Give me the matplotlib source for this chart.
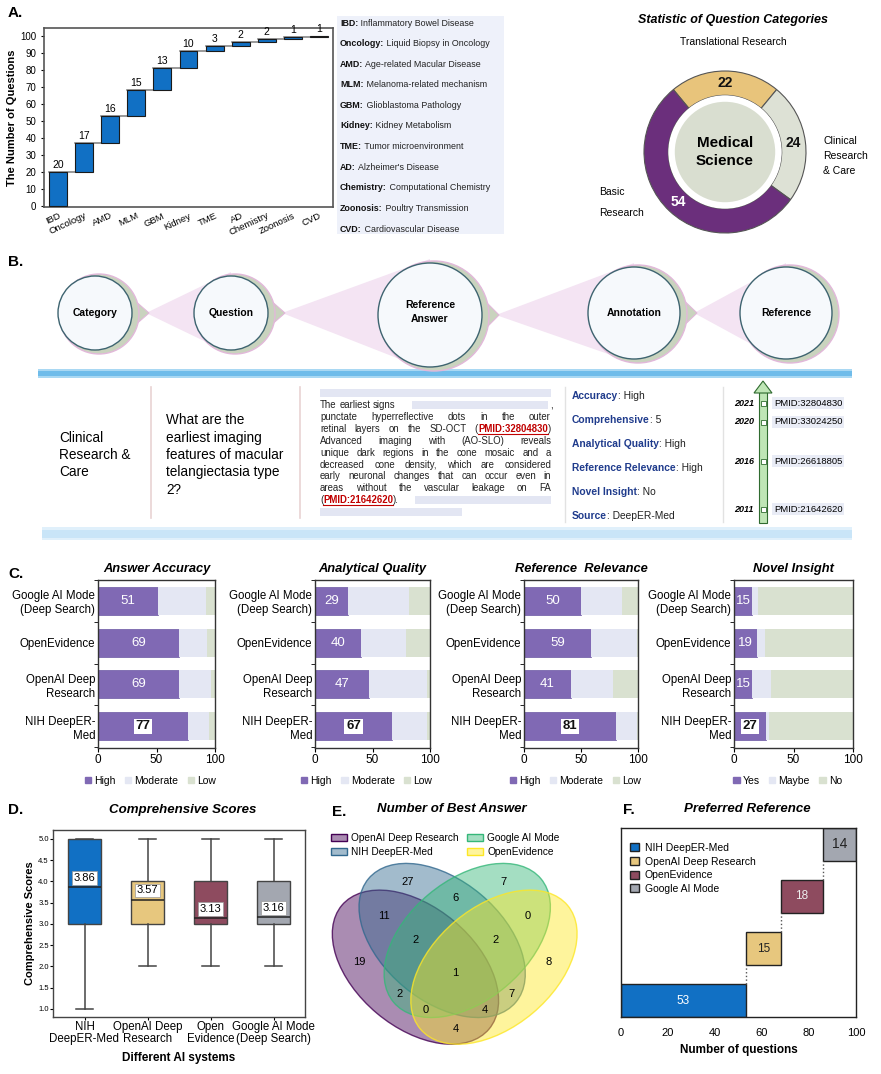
import matplotlib
matplotlib.use('Agg')
import matplotlib.pyplot as plt
from matplotlib.patches import Rectangle, Circle, Ellipse, Polygon, Patch
import numpy as np

plt.rcParams['font.family'] = ['Liberation Sans', 'DejaVu Sans']

# ---------------- data ----------------
topics = ['IBD', 'Oncology', 'AMD', 'MLM', 'GBM', 'Kidney', 'TME', 'AD', 'Chemistry', 'Zoonosis', 'CVD']
topic_counts = [20, 17, 16, 15, 13, 10, 3, 2, 2, 1, 1]
topic_names = ['Inflammatory Bowel Disease', 'Liquid Biopsy in Oncology', 'Age-related Macular Disease',
               'Melanoma-related mechanism', 'Glioblastoma Pathology', 'Kidney Metabolism',
               'Tumor microenvironment', "Alzheimer's Disease", 'Computational Chemistry',
               'Poultry Transmission', 'Cardiovascular Disease']

cat_names = ['Translational Research', 'Clinical Research & Care', 'Basic Research']
cat_counts = [22, 24, 54]

steps = ['Category', 'Question', 'Reference\nAnswer', 'Annotation', 'Reference']
ann_keys = ['Accuracy', 'Comprehensive', 'Analytical Quality', 'Reference Relevance', 'Novel Insight', 'Source']
ann_vals = ['High', '5', 'High', 'High', 'No', 'DeepER-Med']
ref_years = ['2021', '2020', '2016', '2011']
ref_pmids = ['PMID:32804830', 'PMID:33024250', 'PMID:26618805', 'PMID:21642620']

c_systems = ['Google AI Mode\n(Deep Search)', 'OpenEvidence', 'OpenAI Deep\nResearch', 'NIH DeepER-\nMed']
acc_high = [51, 69, 69, 77]
acc_mod = [41, 24, 28, 18]
acc_low = [8, 7, 3, 5]
aq_high = [29, 40, 47, 67]
aq_mod = [53, 39, 50, 30]
aq_low = [18, 21, 3, 3]
rr_high = [50, 59, 41, 81]
rr_mod = [36, 40, 37, 18]
rr_low = [14, 1, 22, 1]
ni_yes = [15, 19, 15, 27]
ni_maybe = [5, 7, 16, 2]
ni_no = [80, 74, 69, 71]

box_systems = ['NIH\nDeepER-Med', 'OpenAI Deep\nResearch', 'Open\nEvidence', 'Google AI Mode\n(Deep Search)']
box_mean = [3.86, 3.57, 3.13, 3.16]
box_q1 = [3, 3, 3, 3]
box_q3 = [5, 4, 4, 4]
box_lo = [1, 2, 2, 2]
box_hi = [5, 5, 5, 5]

venn_names = ['OpenAI Deep Research', 'NIH DeepER-Med', 'Google AI Mode', 'OpenEvidence']
# region codes: OpenAI, NIH, Google, OpenEvidence
venn_regions = ['0001', '0010', '0011', '0100', '0101', '0110', '0111', '1000',
                '1001', '1010', '1011', '1100', '1101', '1110', '1111']
venn_counts = [8, 7, 0, 27, 7, 6, 2, 19, 4, 2, 0, 11, 4, 2, 1]

pref_systems = ['NIH DeepER-Med', 'OpenAI Deep Research', 'OpenEvidence', 'Google AI Mode']
pref_counts = [53, 15, 18, 14]

BLUE = '#1170C4'
GOLD = '#E7C77E'
WINE = '#8E4B5F'
GREY = '#A3A7B0'

W, H = 881, 1074
fig = plt.figure(figsize=(W / 100, H / 100), dpi=100)


def px_axes(x0, y0, x1, y1):
    return fig.add_axes([x0 / W, 1 - y1 / H, (x1 - x0) / W, (y1 - y0) / H])


bg = px_axes(0, 0, W, H)
bg.set_xlim(0, W)
bg.set_ylim(H, 0)
bg.axis('off')
R = fig.canvas.get_renderer()


def tw(t):
    return t.get_window_extent(renderer=R).width


def two_part(x, y, a, b, fs, ca='#111', cb='#222'):
    t1 = bg.text(x, y, a, fontsize=fs, fontweight='bold', color=ca, va='center', ha='left')
    bg.text(x + tw(t1), y, b, fontsize=fs, color=cb, va='center', ha='left')


for lab, (x, y) in zip(['A.', 'B.', 'C.', 'D.', 'E.', 'F.'],
                       [(8, 13), (8, 262), (8, 574), (8, 810), (332, 812), (623, 810)]):
    bg.text(x, y, lab, fontsize=11, fontweight='bold', va='center')

# ---------------- A: waterfall ----------------
axA = px_axes(44, 28, 333, 207)
xa = np.arange(len(topics))
bottoms = np.concatenate([[0], np.cumsum(topic_counts)[:-1]])
axA.bar(xa, topic_counts, bottom=bottoms, width=0.69, color=BLUE, edgecolor='#1a1a1a', linewidth=0.8, zorder=3)
for i, v in enumerate(topic_counts):
    top = bottoms[i] + v
    if i < len(topics) - 1:
        axA.plot([xa[i] - 0.345, xa[i + 1] - 0.345], [top, top], color='#888', lw=1.2, zorder=2)
    axA.text(xa[i], top + 1.2, str(v), ha='center', va='bottom', fontsize=7.5)
axA.set_xlim(-0.55, 10.55)
axA.set_ylim(-0.5, 104.5)
axA.set_yticks(range(0, 101, 10))
axA.set_xticks(xa)
axA.set_xticklabels(topics, rotation=25, ha='right', rotation_mode='anchor', fontsize=6.8)
axA.tick_params(axis='y', labelsize=7, length=2)
axA.tick_params(axis='x', length=0, pad=3)
axA.set_ylabel('The Number of Questions', fontsize=8, fontweight='bold', labelpad=2)
for s in axA.spines.values():
    s.set_color('#555')
    s.set_linewidth(1.2)

bg.add_patch(Rectangle((337, 16), 167, 218, fc='#EEF1FA', ec='none'))
for i, (ab, nm) in enumerate(zip(topics, topic_names)):
    two_part(340, 23 + i * 20.6, ab + ':', ' ' + nm, 6.4)

# ---------------- A: donut ----------------
axP = px_axes(644, 71, 806, 233)
wedges, _ = axP.pie(cat_counts, colors=['#E8C47B', '#DDE1D5', '#6B2F7C'],
                    startangle=90 + 0.5 * cat_counts[0] * 3.6, counterclock=False, radius=1,
                    wedgeprops=dict(width=0.3, edgecolor='#555', linewidth=0.8))
axP.add_patch(Circle((0, 0), 0.70, fc='white', ec='none'))
axP.add_patch(Circle((0, 0), 0.62, fc='#D9DED0', ec='none'))
for w, v, c in zip(wedges, cat_counts, ['#111', '#111', 'white']):
    th = np.deg2rad((w.theta1 + w.theta2) / 2)
    axP.text(0.85 * np.cos(th), 0.85 * np.sin(th), str(v), ha='center', va='center',
             fontsize=10, fontweight='bold', color=c)
axP.text(0, 0, 'Medical\nScience', ha='center', va='center', fontsize=11, fontweight='bold', linespacing=1.3)
axP.set_xlim(-1, 1)
axP.set_ylim(-1, 1)
axP.set_aspect('equal')
axP.axis('off')
bg.text(733, 20, 'Statistic of Question Categories', ha='center', va='center', fontsize=9,
        fontweight='bold', style='italic')
bg.text(733, 42, cat_names[0], ha='center', va='center', fontsize=7.5)
bg.text(823, 156, 'Clinical\nResearch\n& Care', ha='left', va='center', fontsize=7.5, linespacing=1.6)
bg.text(599, 192, 'Basic', ha='left', va='center', fontsize=7.5)
bg.text(599, 213, 'Research', ha='left', va='center', fontsize=7.5)

# ---------------- B: workflow ----------------
bubbles = [(95, 313, 37), (231, 313, 37), (430, 315, 52), (634, 313, 46), (786, 313, 46)]
for i in range(len(bubbles) - 1):
    cx, cy, r = bubbles[i]
    nx, ny, nr = bubbles[i + 1]
    bg.add_patch(Polygon([(cx + r + 14, cy), (nx, ny - nr - 4), (nx, ny + nr + 4)],
                         closed=True, fc='#F4E4F3', ec='none', zorder=2))
for i, ((cx, cy, r), lab) in enumerate(zip(bubbles, steps)):
    if i < len(bubbles) - 1:
        bg.add_patch(Polygon([(cx + r * 0.45, cy - r * 0.88), (cx + r + 17, cy), (cx + r * 0.45, cy + r * 0.88)],
                             closed=True, fc='#C9D3BE', ec='#E2B8DA', lw=0.8, zorder=3))
    bg.add_patch(Circle((cx + 4, cy + 1), r + 3, fc='#C9D3BE', ec='#E2B8DA', lw=1, zorder=3))
    bg.add_patch(Circle((cx, cy), r, fc='#F6F9FC', ec='#3E6470', lw=1, zorder=4))
    bg.text(cx, cy - 3 if '\n' in lab else cy, lab, ha='center', va='center', fontsize=7.5,
            fontweight='bold', zorder=5, linespacing=1.6)

bg.add_patch(Rectangle((38, 369), 814, 9, fc='#A9D8F3', ec='none'))
bg.add_patch(Rectangle((38, 371), 814, 5, fc='#6FBCEA', ec='none'))
bg.add_patch(Rectangle((42, 527), 810, 13, fc='#E0F0FB', ec='none'))
bg.add_patch(Rectangle((42, 530), 810, 8, fc='#C9E5F8', ec='none'))

for x in (151, 300):
    bg.plot([x, x], [387, 518], color='#E9D3D3', lw=1.2)
for x in (565, 723):
    bg.plot([x, x], [387, 522], color='#E2E2E2', lw=1)

bg.text(59, 455, 'Clinical\nResearch &\nCare', ha='left', va='center', fontsize=9.8, linespacing=1.3)
bg.text(166, 455, 'What are the\nearliest imaging\nfeatures of macular\ntelangiectasia type\n2?',
        ha='left', va='center', fontsize=9.8, linespacing=1.3)

para_lines = [
    'The earliest signs',
    'punctate hyperreflective dots in the outer',
    'retinal layers on the SD-OCT (PMID:32804830)',
    'Advanced imaging with (AO-SLO) reveals',
    'unique dark regions in the cone mosaic and a',
    'decreased cone density, which are considered',
    'early neuronal changes that can occur even in',
    'areas without the vascular leakage on FA',
    '(PMID:21642620).',
]


def segs(word):
    if 'PMID:' in word:
        k = word.index('PMID:')
        return [(word[:k], 'n'), (word[k:k + 13], 'p'), (word[k + 13:], 'n')]
    return [(word, 'n')]


def put_line(text, x0, x1, y, fs, justify):
    words = []
    for wd in text.split():
        parts = []
        for s, kind in segs(wd):
            if not s:
                continue
            if kind == 'p':
                t = bg.text(0, y, s, fontsize=fs, color='#C00000', fontweight='bold', va='center')
            else:
                t = bg.text(0, y, s, fontsize=fs, color='#222', va='center')
            parts.append((t, kind, tw(t)))
        words.append(parts)
    widths = [sum(p[2] for p in w) for w in words]
    gap = (x1 - x0 - sum(widths)) / (len(words) - 1) if justify and len(words) > 1 else fs * 0.4
    x = x0
    for parts, wsum in zip(words, widths):
        xx = x
        for t, kind, w in parts:
            t.set_x(xx)
            if kind == 'p':
                bg.plot([xx, xx + w], [y + 4.8, y + 4.8], color='#C00000', lw=0.8)
            xx += w
        x += wsum + gap
    return x


PH = '#E3E6F3'
bg.add_patch(Rectangle((320, 389), 231, 8, fc=PH, ec='none'))
for i, line in enumerate(para_lines):
    put_line(line, 320, 551, 405 + i * 11.9, 6.9, justify=0 < i < len(para_lines) - 1)
bg.add_patch(Rectangle((412, 401), 136, 8, fc=PH, ec='none'))
bg.text(550, 405, ',', fontsize=6.9, va='center')
bg.add_patch(Rectangle((415, 496), 136, 8, fc=PH, ec='none'))
bg.add_patch(Rectangle((320, 508), 142, 8, fc=PH, ec='none'))

for i, (k, v) in enumerate(zip(ann_keys, ann_vals)):
    two_part(572, 396 + i * 24, k, ': ' + v, 7.4, ca='#1F3B8C', cb='#222')

bg.add_patch(Rectangle((759, 392), 8, 131, fc='#BFE6B6', ec='#2F6B2F', lw=0.8, zorder=3))
bg.add_patch(Polygon([(754, 393), (772, 393), (763, 381)], closed=True, fc='#BFE6B6', ec='#2F6B2F',
                     lw=0.8, zorder=3))
for yr, pm, y in zip(ref_years, ref_pmids, [403, 422, 461, 509]):
    bg.add_patch(Rectangle((760.5, y - 2.5), 5, 5, fc='white', ec='#2F6B2F', lw=0.6, zorder=4))
    bg.text(754, y, yr, ha='right', va='center', fontsize=6.5, fontweight='bold', style='italic')
    bg.text(774, y, pm, ha='left', va='center', fontsize=6.8,
            bbox=dict(fc='#E9ECF6', ec='none', pad=1.2))

# ---------------- C: stacked bars ----------------
c_titles = ['Answer Accuracy', 'Analytical Quality', 'Reference  Relevance', 'Novel Insight']
c_data = [(acc_high, acc_mod, acc_low), (aq_high, aq_mod, aq_low),
          (rr_high, rr_mod, rr_low), (ni_yes, ni_maybe, ni_no)]
c_rects = [(98, 580, 215, 748), (315, 580, 430, 748), (524, 580, 638, 748), (734, 580, 853, 748)]
c_cols = ['#8069B4', '#E4E7F3', '#D9E1D0']
for k, (rect, title, (hi, md, lo)) in enumerate(zip(c_rects, c_titles, c_data)):
    ax = px_axes(*rect)
    yy = np.arange(4)
    hi = np.array(hi)
    md = np.array(md)
    ax.barh(yy, hi, height=0.67, color=c_cols[0], edgecolor='#6B58A3', lw=0.5)
    ax.barh(yy, md, left=hi, height=0.67, color=c_cols[1])
    ax.barh(yy, lo, left=hi + md, height=0.67, color=c_cols[2])
    for i, v in enumerate(hi):
        if i == 3:
            ax.text(v / 2, i, str(v), ha='center', va='center', fontsize=9.5, fontweight='bold',
                    color='#111', bbox=dict(fc='white', ec='none', pad=1.2))
        else:
            ax.text(v / 2, i, str(v), ha='center', va='center', fontsize=9.5, color='white')
    ax.set_xlim(0, 100)
    ax.set_ylim(3.52, -0.48)
    ax.set_xticks([0, 50, 100])
    ax.set_yticks(yy)
    ax.set_yticklabels(c_systems, fontsize=8.3)
    ax.set_yticks([-0.5, 0.5, 1.5, 2.5, 3.5], minor=True)
    ax.tick_params(axis='y', which='major', length=0, pad=2)
    ax.tick_params(axis='y', which='minor', length=3)
    ax.tick_params(axis='x', labelsize=8.5, length=3, pad=1)
    for s in ax.spines.values():
        s.set_color('#333')
        s.set_linewidth(1)
    ax.set_title(title, fontsize=9.3, fontweight='bold', style='italic', pad=6)
    labs = ['Yes', 'Maybe', 'No'] if k == 3 else ['High', 'Moderate', 'Low']
    ax.legend(handles=[Patch(color=c) for c in c_cols], labels=labs, loc='upper center',
              bbox_to_anchor=(0.45, -0.11), ncol=3, frameon=False, fontsize=7.5, handlelength=0.6,
              handleheight=0.6, handletextpad=0.3, columnspacing=0.9)

# ---------------- D: boxplot ----------------
axD = px_axes(53, 830, 305, 1017)
stats = [dict(med=m, q1=a, q3=b, whislo=lo, whishi=hi, fliers=[])
         for m, a, b, lo, hi in zip(box_mean, box_q1, box_q3, box_lo, box_hi)]
bp = axD.bxp(stats, positions=range(4), widths=0.52, patch_artist=True, showfliers=False,
             medianprops=dict(color='#222', lw=1.1), whiskerprops=dict(color='#444', lw=1.1),
             capprops=dict(color='#444', lw=1.1), boxprops=dict(lw=1))
for patch, c in zip(bp['boxes'], [BLUE, GOLD, WINE, GREY]):
    patch.set_facecolor(c)
    patch.set_edgecolor('#444')
for i, m in enumerate(box_mean):
    axD.text(i, m + 0.22, f'{m:.2f}', ha='center', va='center', fontsize=8,
             bbox=dict(fc='white', ec='#999', lw=0.5, pad=1.3))
axD.set_xlim(-0.5, 3.5)
axD.set_ylim(0.81, 5.21)
axD.set_yticks(np.arange(1, 5.01, 0.5))
axD.set_yticklabels([f'{v:.1f}' for v in np.arange(1, 5.01, 0.5)])
axD.set_xticks(range(4))
axD.set_xticklabels(box_systems, fontsize=8.3, linespacing=1.0)
axD.tick_params(axis='y', labelsize=5.5, length=2, pad=1)
axD.tick_params(axis='x', length=2, pad=1)
axD.set_ylabel('Comprehensive Scores', fontsize=8, fontweight='bold', labelpad=2)
axD.set_xlabel('Different AI systems', fontsize=8.5, fontweight='bold', labelpad=5)
for s in axD.spines.values():
    s.set_color('#444')
    s.set_linewidth(1)
bg.text(183, 810, 'Comprehensive Scores', ha='center', va='center', fontsize=9.5,
        fontweight='bold', style='italic')

# ---------------- E: venn ----------------
axE = px_axes(322, 808, 589, 1074)
vcols = plt.cm.viridis(np.linspace(0, 1, 4))
ell = [(0.350, 0.400, 140.0), (0.450, 0.500, 140.0), (0.544, 0.500, 40.0), (0.644, 0.400, 40.0)]
for (x, y, a), c in zip(ell, vcols):
    axE.add_patch(Ellipse((x, y), 0.72, 0.45, angle=a, fc=(*c[:3], 0.45), ec=(*c[:3], 0.8), lw=1))
label_pos = {'0001': (0.85, 0.42), '0010': (0.68, 0.72), '0011': (0.77, 0.59), '0100': (0.32, 0.72),
             '0101': (0.71, 0.30), '0110': (0.50, 0.66), '0111': (0.65, 0.50), '1000': (0.14, 0.42),
             '1001': (0.50, 0.17), '1010': (0.29, 0.30), '1011': (0.39, 0.24), '1100': (0.23, 0.59),
             '1101': (0.61, 0.24), '1110': (0.35, 0.50), '1111': (0.50, 0.38)}
for code, n in zip(venn_regions, venn_counts):
    x, y = label_pos[code]
    axE.text(x, y, str(n), ha='center', va='center', fontsize=8)
axE.set_xlim(0, 1)
axE.set_ylim(0, 0.996)
axE.axis('off')
axE.legend(handles=[Patch(fc=(*c[:3], 0.45), ec=(*c[:3], 1.0)) for c in vcols], labels=venn_names,
           loc='upper left', bbox_to_anchor=(0.0, 0.94), ncol=2, frameon=False, fontsize=7.3,
           handlelength=1.6, handleheight=0.8, handletextpad=0.4, columnspacing=0.8, labelspacing=0.4)
bg.text(452, 809, 'Number of Best Answer', ha='center', va='center', fontsize=9.5,
        fontweight='bold', style='italic')

# ---------------- F: preferred reference ----------------
axF = px_axes(621, 828, 856, 1017)
lefts = np.concatenate([[0], np.cumsum(pref_counts)[:-1]])
fcols = [BLUE, GOLD, WINE, GREY]
axF.barh(np.arange(4), pref_counts, left=lefts, height=0.63, align='edge', color=fcols,
         edgecolor='#222', lw=1)
for i in range(3):
    axF.plot([lefts[i + 1]] * 2, [i + 0.63, i + 1], ls=':', color='#555', lw=1)
for i, (v, l) in enumerate(zip(pref_counts, lefts)):
    axF.text(l + v / 2, i + 0.315, str(v), ha='center', va='center',
             fontsize=10 if i == 3 else 8.5, color=['white', '#222', '#eee', '#222'][i])
axF.set_xlim(0, 100)
axF.set_ylim(0, 3.63)
axF.set_yticks([])
axF.set_xticks(range(0, 101, 20))
axF.tick_params(axis='x', labelsize=8, length=0, pad=8)
axF.set_xlabel('Number of questions', fontsize=8.5, fontweight='bold', labelpad=4)
for s in axF.spines.values():
    s.set_color('#222')
    s.set_linewidth(1)
axF.legend(handles=[Patch(fc=c, ec='#222') for c in fcols], labels=pref_systems, loc='upper left',
           bbox_to_anchor=(0.0, 0.97), frameon=False, fontsize=7.5, handlelength=0.8, handleheight=0.8,
           handletextpad=0.6, labelspacing=0.35)
bg.text(747, 809, 'Preferred Reference', ha='center', va='center', fontsize=9.5,
        fontweight='bold', style='italic')

fig.savefig('out.png', dpi=100)
